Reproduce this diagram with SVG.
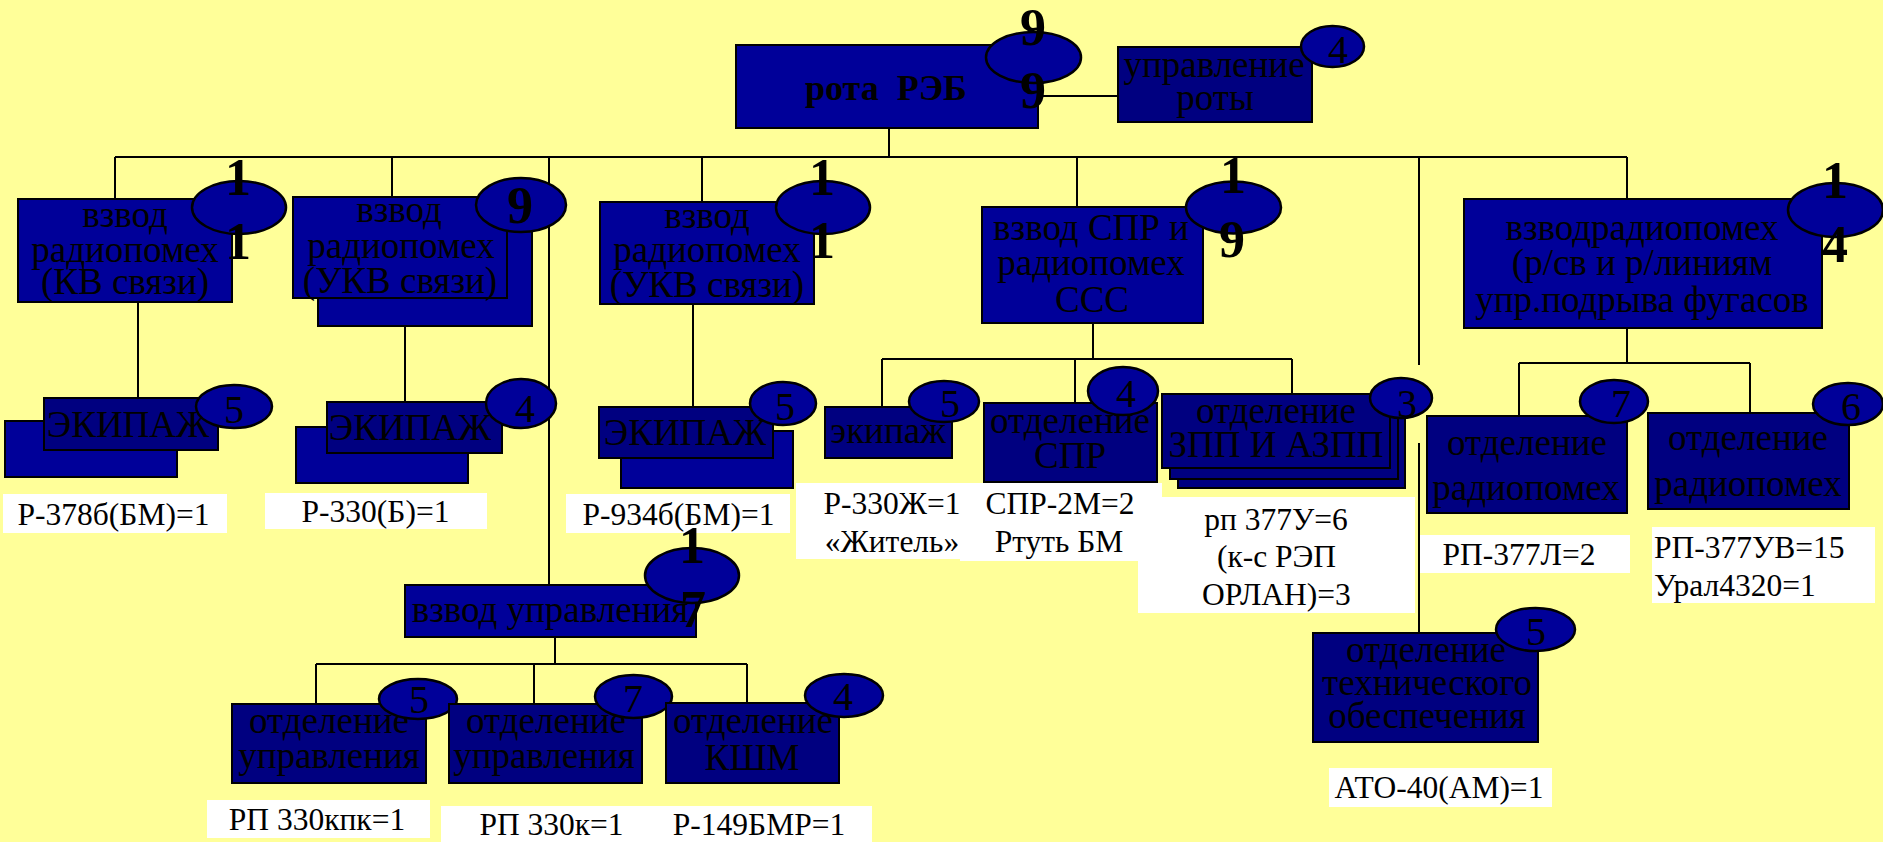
<svg xmlns="http://www.w3.org/2000/svg" width="1883" height="842" viewBox="0 0 1883 842">
<style>
.b1{fill:#000099;stroke:#000;stroke-width:2}
.b2{fill:#000080;stroke:#000;stroke-width:2}
.el{fill:#000099;stroke:#000;stroke-width:2.5}
.lw{fill:#fff}
.c{stroke:#000;stroke-width:2;fill:none}
text{font-family:"Liberation Serif","Times New Roman",serif;fill:#000;text-anchor:middle}
.t{font-size:37px}
.tb{font-size:36px;font-weight:bold}
.n{font-size:52px;font-weight:bold}
.s{font-size:40px}
.l{font-size:31.5px}
</style>
<rect x="0" y="0" width="1883" height="842" fill="#FFFF99"/>
<g id="connectors">
<path class="c" d="M889 128V157M115 157H1627M115 157V199M392 157V197M549 157V585M702 157V202M1077 157V207M1419 157V365M1627 157V199"/>
<path class="c" d="M1040 96H1118"/>
<path class="c" d="M138 302V398M405 326V402M693 304V407"/>
<path class="c" d="M1093 323V359M882 359H1292M882 359V407M1075 359V403M1292 359V394"/>
<path class="c" d="M1419 443V633"/>
<path class="c" d="M1627 328V363M1519 363H1750M1519 363V416M1750 363V413"/>
<path class="c" d="M555 637V664M316 664H747M316 664V704M534 664V704M747 664V703"/>
</g>
<g id="label-r378">
<rect class="lw" x="3" y="494" width="224" height="39"/>
<text class="l" x="113.5" y="525">Р-378б(БМ)=1</text>
</g>
<g id="label-r330b">
<rect class="lw" x="265" y="493" width="222" height="36"/>
<text class="l" x="375.5" y="522">Р-330(Б)=1</text>
</g>
<g id="label-r934">
<rect class="lw" x="566" y="494" width="224" height="39"/>
<text class="l" x="678.5" y="525">Р-934б(БМ)=1</text>
</g>
<g id="label-r330zh">
<rect class="lw" x="796" y="483" width="166" height="76"/>
<text class="l" x="892" y="514">Р-330Ж=1</text>
<text class="l" x="892" y="552">«Житель»</text>
</g>
<g id="label-spr2m">
<rect class="lw" x="960" y="483" width="202" height="78"/>
<text class="l" x="1060" y="514">СПР-2М=2</text>
<text class="l" x="1059" y="552">Ртуть БМ</text>
</g>
<g id="label-rp377u">
<rect class="lw" x="1138" y="497" width="277" height="116"/>
<text class="l" x="1276" y="530">рп 377У=6</text>
<text class="l" x="1276.5" y="567">(к-с РЭП</text>
<text class="l" x="1276.5" y="605">ОРЛАН)=3</text>
</g>
<g id="label-rp377l">
<rect class="lw" x="1420" y="535" width="210" height="38"/>
<text class="l" x="1519" y="565">РП-377Л=2</text>
</g>
<g id="label-rp377uv">
<rect class="lw" x="1652" y="527" width="223" height="76"/>
<text class="l" x="1654" y="558" style="text-anchor:start">РП-377УВ=15</text>
<text class="l" x="1654" y="596" style="text-anchor:start">Урал4320=1</text>
</g>
<g id="label-rp330kpk">
<rect class="lw" x="207" y="800" width="223" height="38"/>
<text class="l" x="317" y="830">РП 330кпк=1</text>
</g>
<g id="label-rp330k">
<rect class="lw" x="441" y="806" width="431" height="36"/>
<text class="l" x="551.5" y="835">РП 330к=1</text>
<text class="l" x="759" y="835">Р-149БМР=1</text>
</g>
<g id="label-ato40">
<rect class="lw" x="1329" y="768" width="223" height="39"/>
<text class="l" x="1439" y="798">АТО-40(АМ)=1</text>
</g>
<g id="rota">
<rect class="b1" x="736" y="45" width="302" height="83"/>
<text class="tb" x="886" y="100" xml:space="preserve">рота  РЭБ</text>
<ellipse class="el" cx="1033.5" cy="57.5" rx="47.5" ry="25.5"/>
<text class="n" x="1033" y="45">9</text>
<text class="n" x="1033" y="108">9</text>
</g>
<g id="upravlenie-roty">
<rect class="b2" x="1118" y="47" width="194" height="75"/>
<text class="t" x="1214" y="77">управление</text>
<text class="t" x="1215" y="110">роты</text>
<ellipse class="el" cx="1332.5" cy="46.5" rx="31.5" ry="20.5"/>
<text class="s" x="1338" y="63">4</text>
</g>
<g id="vzvod-kv">
<rect class="b1" x="18" y="199" width="214" height="103"/>
<text class="t" x="125" y="227">взвод</text>
<text class="t" x="125" y="262">радиопомех</text>
<text class="t" x="125" y="294">(КВ связи)</text>
<ellipse class="el" cx="239" cy="207.5" rx="47" ry="26.5"/>
<text class="n" x="238" y="195">1</text>
<text class="n" x="238" y="259">1</text>
</g>
<g id="vzvod-ukv1">
<rect class="b1" x="318" y="225" width="214" height="101"/>
<rect class="b1" x="293" y="197" width="214" height="101"/>
<text class="t" x="399" y="222">взвод</text>
<text class="t" x="401" y="258">радиопомех</text>
<text class="t" x="400" y="293">(УКВ связи)</text>
<ellipse class="el" cx="521" cy="205" rx="45" ry="27"/>
<text class="n" x="520" y="223">9</text>
</g>
<g id="vzvod-ukv2">
<rect class="b1" x="600" y="202" width="214" height="102"/>
<text class="t" x="707" y="228">взвод</text>
<text class="t" x="707" y="262">радиопомех</text>
<text class="t" x="707" y="297">(УКВ связи)</text>
<ellipse class="el" cx="823" cy="207.5" rx="47" ry="26.5"/>
<text class="n" x="822" y="195">1</text>
<text class="n" x="822" y="258">1</text>
</g>
<g id="vzvod-spr">
<rect class="b1" x="982" y="207" width="221" height="116"/>
<text class="t" x="1091" y="240">взвод СПР и</text>
<text class="t" x="1091" y="275">радиопомех</text>
<text class="t" x="1092" y="312">ССС</text>
<ellipse class="el" cx="1233.5" cy="207.5" rx="47.5" ry="26"/>
<text class="n" x="1233" y="193">1</text>
<text class="n" x="1232" y="257">9</text>
</g>
<g id="vzvod-fugas">
<rect class="b1" x="1464" y="199" width="358" height="129"/>
<text class="t" x="1642" y="240">взводрадиопомех</text>
<text class="t" x="1642" y="275">(р/св и р/линиям</text>
<text class="t" x="1642" y="312">упр.подрыва фугасов</text>
<ellipse class="el" cx="1835.5" cy="210" rx="47.5" ry="27"/>
<text class="n" x="1835" y="198">1</text>
<text class="n" x="1835" y="262">4</text>
</g>
<g id="ekipazh1">
<rect class="b1" x="5" y="421" width="172" height="56"/>
<rect class="b2" x="44" y="398" width="174" height="52"/>
<text class="t" x="128" y="437">ЭКИПАЖ</text>
<ellipse class="el" cx="234" cy="406.5" rx="38" ry="21.5"/>
<text class="s" x="234" y="423">5</text>
</g>
<g id="ekipazh2">
<rect class="b1" x="296" y="427" width="172" height="56"/>
<rect class="b2" x="327" y="402" width="175" height="51"/>
<text class="t" x="410" y="440">ЭКИПАЖ</text>
<ellipse class="el" cx="521" cy="403.5" rx="35" ry="24.5"/>
<text class="s" x="525" y="422">4</text>
</g>
<g id="ekipazh3">
<rect class="b1" x="621" y="431" width="172" height="57"/>
<rect class="b2" x="599" y="407" width="174" height="51"/>
<text class="t" x="685" y="445">ЭКИПАЖ</text>
<ellipse class="el" cx="783" cy="403.5" rx="33" ry="21.5"/>
<text class="s" x="785" y="420">5</text>
</g>
<g id="ekipazh-spr">
<rect class="b2" x="825" y="407" width="127" height="51"/>
<text class="t" x="888" y="443">экипаж</text>
<ellipse class="el" cx="944" cy="401.5" rx="35" ry="20.5"/>
<text class="s" x="950" y="417">5</text>
</g>
<g id="otd-spr">
<rect class="b2" x="984" y="403" width="173" height="79"/>
<text class="t" x="1070" y="433">отделение</text>
<text class="t" x="1070" y="468">СПР</text>
<ellipse class="el" cx="1123" cy="391" rx="35" ry="24"/>
<text class="s" x="1126" y="407">4</text>
</g>
<g id="otd-zpp">
<rect class="b2" x="1178" y="414" width="227" height="74"/>
<rect class="b2" x="1170" y="405" width="228" height="74"/>
<rect class="b2" x="1162" y="394" width="228" height="74"/>
<text class="t" x="1276" y="423">отделение</text>
<text class="t" x="1276" y="457">ЗПП И АЗПП</text>
<ellipse class="el" cx="1401" cy="398" rx="31" ry="20"/>
<text class="s" x="1407" y="417">3</text>
</g>
<g id="otd-rp7">
<rect class="b2" x="1427" y="416" width="200" height="97"/>
<text class="t" x="1527" y="455">отделение</text>
<text class="t" x="1526" y="500">радиопомех</text>
<ellipse class="el" cx="1614" cy="401.5" rx="34" ry="21.5"/>
<text class="s" x="1621" y="417">7</text>
</g>
<g id="otd-rp6">
<rect class="b2" x="1648" y="413" width="201" height="96"/>
<text class="t" x="1748" y="450">отделение</text>
<text class="t" x="1748" y="496">радиопомех</text>
<ellipse class="el" cx="1848" cy="404" rx="35" ry="21"/>
<text class="s" x="1851" y="420">6</text>
</g>
<g id="otd-tech">
<rect class="b2" x="1313" y="633" width="225" height="109"/>
<text class="t" x="1426" y="662">отделение</text>
<text class="t" x="1427" y="695">технического</text>
<text class="t" x="1427" y="728">обеспечения</text>
<ellipse class="el" cx="1535.5" cy="629.5" rx="39.5" ry="21.5"/>
<text class="s" x="1536" y="645">5</text>
</g>
<g id="vzvod-upr">
<rect class="b1" x="405" y="585" width="291" height="52"/>
<text class="t" x="550" y="622">взвод управления</text>
<ellipse class="el" cx="692" cy="575.5" rx="47" ry="27.5"/>
<text class="n" x="692" y="563">1</text>
<text class="n" x="693" y="627">7</text>
</g>
<g id="otd-upr5">
<rect class="b2" x="232" y="704" width="194" height="79"/>
<text class="t" x="329" y="733">отделение</text>
<text class="t" x="329" y="768">управления</text>
<ellipse class="el" cx="418" cy="699" rx="39" ry="20"/>
<text class="s" x="419" y="713">5</text>
</g>
<g id="otd-upr7">
<rect class="b2" x="449" y="704" width="193" height="79"/>
<text class="t" x="546" y="733">отделение</text>
<text class="t" x="544" y="768">управления</text>
<ellipse class="el" cx="633.5" cy="696.5" rx="38.5" ry="21.5"/>
<text class="s" x="633" y="712">7</text>
</g>
<g id="otd-kshm">
<rect class="b2" x="666" y="703" width="173" height="80"/>
<text class="t" x="753" y="733">отделение</text>
<text class="t" x="752" y="770">КШМ</text>
<ellipse class="el" cx="844" cy="695.5" rx="39" ry="21.5"/>
<text class="s" x="843" y="710">4</text>
</g>
</svg>
